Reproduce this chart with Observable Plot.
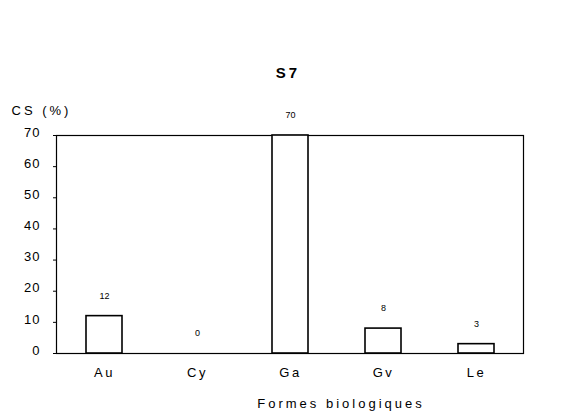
<!DOCTYPE html>
<html>
<head>
<meta charset="utf-8">
<script src="https://cdn.jsdelivr.net/npm/d3@7"></script>
<script src="https://cdn.jsdelivr.net/npm/@observablehq/plot@0.6"></script>
<style>
  body { margin: 0; background: #fff; }
  svg { font-family: "Liberation Sans", Arial, sans-serif; }
  .xlab text { letter-spacing: 2.5px; }
  .ylab text { letter-spacing: 1px; }
  .spaced text, text.spaced { letter-spacing: 3px; }
</style>
</head>
<body>
<div id="chart"></div>
<script>
const categories = ["Au", "Cy", "Ga", "Gv", "Le"];
const values = [12, 0, 70, 8, 3];
const yTicks = [0, 10, 20, 30, 40, 50, 60, 70];
const title = "S7";
const yLabel = "CS (%)";
const xLabel = "Formes biologiques";

const data = categories.map((c, i) => ({cat: c, v: values[i]}));

const chart = Plot.plot({
  width: 567,
  height: 412,
  marginLeft: 56,
  marginRight: 44,
  marginTop: 135,
  marginBottom: 59,
  style: {fontFamily: "Liberation Sans, Arial, sans-serif", background: "#fff", color: "#000"},
  x: {domain: categories, paddingInner: 0.616, paddingOuter: 0.3, label: null},
  y: {domain: [0, 70], label: null},
  marks: [
    Plot.frame({stroke: "#000", strokeWidth: 1.2}),
    Plot.barY(data, {x: "cat", y: "v", fill: "#fff", stroke: "#000", strokeWidth: 1.6}),
    Plot.text(data, {x: "cat", y: "v", text: d => String(d.v), dy: -20, fontSize: 9, fill: "#000"}),
    Plot.axisY(yTicks, {tickSize: 3, text: null, label: null}),
    Plot.axisY(yTicks, {tickSize: 0, tickPadding: 16, fontSize: 13, dy: -3, label: null, className: "ylab"}),
    Plot.axisX({tickSize: 0, tickPadding: 14, fontSize: 13, label: null, className: "xlab"}),
    Plot.text([title], {frameAnchor: "top", dx: -2, dy: -68, fontSize: 15, fontWeight: "bold", className: "spaced"}),
    Plot.text([yLabel], {frameAnchor: "top-left", textAnchor: "middle", dx: -15, dy: -30, fontSize: 13, className: "spaced"}),
    Plot.text([xLabel], {frameAnchor: "bottom", dx: 51, dy: 54, fontSize: 13, className: "spaced"})
  ]
});
document.getElementById("chart").appendChild(chart);
</script>
</body>
</html>
